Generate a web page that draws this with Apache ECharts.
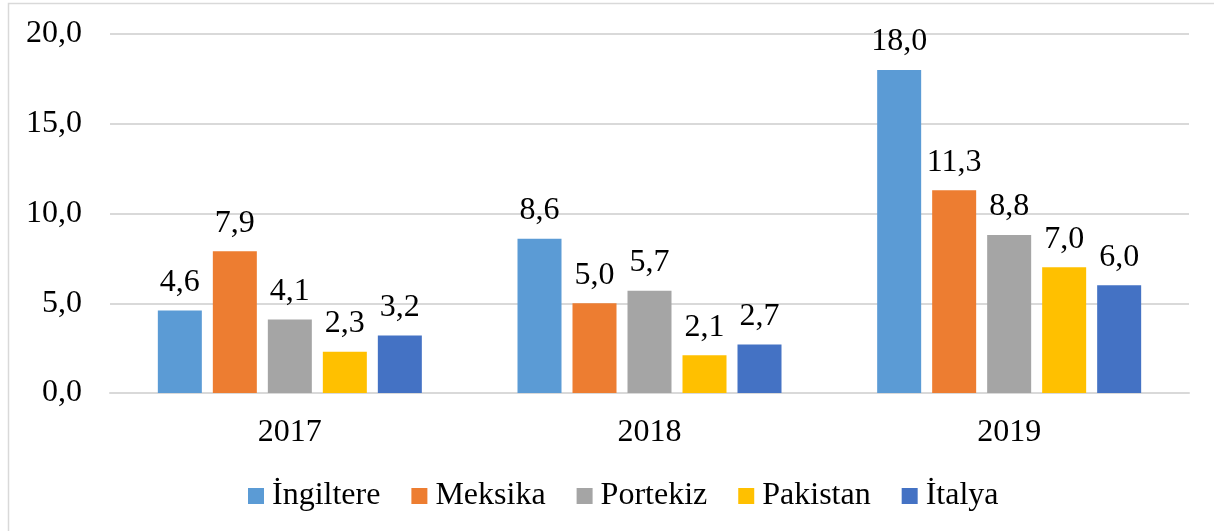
<!DOCTYPE html>
<html>
<head>
<meta charset="utf-8">
<script src="https://cdn.jsdelivr.net/npm/echarts@6/dist/echarts.min.js"></script>
<style>
  html, body { margin: 0; padding: 0; background: #fff; }
  #main { width: 1214px; height: 531px; }
</style>
</head>
<body>
<div id="main"></div>
<script>
const years = ['2017', '2018', '2019'];
const ingiltere = [4.6, 8.6, 18.0];
const meksika = [7.9, 5.0, 11.3];
const portekiz = [4.1, 5.7, 8.8];
const pakistan = [2.3, 2.1, 7.0];
const italya = [3.2, 2.7, 6.0];

const fmt = v => v.toFixed(1).replace('.', ',');
const font = 'Liberation Serif';
const fs = 32;

let myChart = echarts.init(document.getElementById('main'));

function bar(name, color, data) {
  return {
    name: name,
    type: 'bar',
    color: color,
    barWidth: 44,
    barGap: '25%',
    data: data,
    label: {
      show: true,
      position: 'top',
      distance: 12,
      fontFamily: font,
      fontSize: fs,
      color: '#000',
      formatter: p => fmt(p.value)
    }
  };
}

let option = {
  animation: false,
  textStyle: { fontFamily: font },
  graphic: [{
    type: 'rect',
    shape: { x: 8.5, y: 3.5, width: 1220, height: 540 },
    style: { fill: 'none', stroke: '#D9D9D9', lineWidth: 1.5 },
    silent: true
  }],
  grid: { left: 110, right: 25, top: 34, bottom: 138 },
  legend: {
    data: ['İngiltere', 'Meksika', 'Portekiz', 'Pakistan', 'İtalya'],
    top: 475,
    left: 243,
    icon: 'rect',
    itemWidth: 16,
    itemHeight: 16,
    itemGap: 31,
    textStyle: { fontFamily: font, fontSize: fs, color: '#000', padding: [0, 0, 0, 3] }
  },
  xAxis: {
    type: 'category',
    data: years,
    axisTick: { show: false },
    axisLine: { lineStyle: { color: '#D9D9D9', width: 2 } },
    axisLabel: { fontFamily: font, fontSize: fs, color: '#000', margin: 24 }
  },
  yAxis: {
    type: 'value',
    min: 0, max: 20, interval: 5,
    axisLabel: { fontFamily: font, fontSize: fs, color: '#000', margin: 28, formatter: fmt },
    splitLine: { lineStyle: { color: '#D9D9D9', width: 2 } }
  },
  series: [
    bar('İngiltere', '#5B9BD5', ingiltere),
    bar('Meksika', '#ED7D31', meksika),
    bar('Portekiz', '#A5A5A5', portekiz),
    bar('Pakistan', '#FFC000', pakistan),
    bar('İtalya', '#4472C4', italya)
  ]
};
myChart.setOption(option);
</script>
</body>
</html>
